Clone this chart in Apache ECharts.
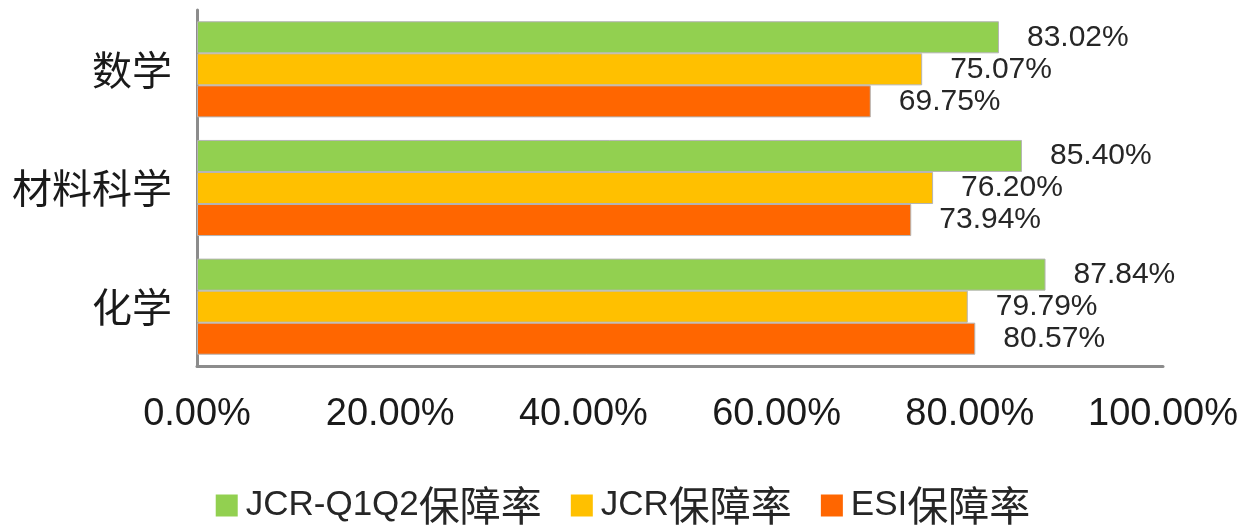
<!DOCTYPE html>
<html>
<head>
<meta charset="utf-8">
<script src="https://cdn.jsdelivr.net/npm/echarts@6/dist/echarts.min.js"></script>
<style>
  html, body { margin: 0; padding: 0; background: #fff; }
  #chart { width: 1246px; height: 526px; }
</style>
</head>
<body>
<div id="chart"></div>
<script>
// Subjects, listed bottom to top on the category axis
const categories = ['化学', '材料科学', '数学'];

// Coverage rates (%) for each subject, same order as categories
const jcrQ1Q2Rate = [87.84, 85.40, 83.02];
const jcrRate = [79.79, 76.20, 75.07];
const esiRate = [80.57, 73.94, 69.75];

const seriesNames = ['JCR-Q1Q2保障率', 'JCR保障率', 'ESI保障率'];
const seriesColors = ['#92d050', '#ffc000', '#ff6600'];

// Value axis ticks
const axisMin = 0;
const axisMax = 100;
const axisStep = 20;

const latin = 'Liberation Sans, Arial, sans-serif';
const cjk = 'Noto Sans CJK SC, sans-serif';
const axisGray = '#8c8c8c';

function makeSeries(name, data, color) {
  return {
    name: name,
    type: 'bar',
    data: data,
    barGap: '0%',
    barCategoryGap: '19%',
    itemStyle: { color: color, borderColor: '#b4b4b4', borderWidth: 1 },
    label: {
      show: true,
      position: 'right',
      distance: 28,
      fontFamily: latin,
      fontSize: 30,
      color: '#262626',
      formatter: p => p.value.toFixed(2) + '%'
    }
  };
}

const chart = echarts.init(document.getElementById('chart'), null, { renderer: 'canvas' });

chart.setOption({
  animation: false,
  backgroundColor: '#ffffff',
  grid: { left: 197, right: 83, top: 10, bottom: 160, containLabel: false },
  legend: {
    data: seriesNames,
    left: 'center',
    top: 480,
    icon: 'rect',
    itemWidth: 22,
    itemHeight: 22,
    itemGap: 29,
    itemStyle: { borderWidth: 0 },
    formatter: name => {
      const m = name.match(/^([A-Za-z0-9\-]+)(.*)$/);
      return '{en|' + m[1] + '}{zh|' + m[2] + '}';
    },
    textStyle: {
      color: '#262626',
      padding: [0, 0, 0, 3],
      rich: {
        en: { fontFamily: latin, fontSize: 35, color: '#262626' },
        zh: { fontFamily: cjk, fontSize: 41, color: '#262626' }
      }
    }
  },
  xAxis: {
    type: 'value',
    min: axisMin,
    max: axisMax,
    interval: axisStep,
    axisLine: { show: true, lineStyle: { color: axisGray, width: 3 } },
    axisTick: { show: false },
    splitLine: { show: false },
    axisLabel: {
      margin: 30,
      fontFamily: latin,
      fontSize: 38,
      color: '#1a1a1a',
      formatter: v => v.toFixed(2) + '%'
    }
  },
  yAxis: {
    type: 'category',
    data: categories,
    axisLine: { show: true, lineStyle: { color: axisGray, width: 3 } },
    axisTick: { show: false },
    axisLabel: {
      margin: 25,
      fontFamily: cjk,
      fontSize: 40,
      color: '#1a1a1a'
    }
  },
  series: [
    makeSeries(seriesNames[0], jcrQ1Q2Rate, seriesColors[0]),
    makeSeries(seriesNames[1], jcrRate, seriesColors[1]),
    makeSeries(seriesNames[2], esiRate, seriesColors[2])
  ]
});
</script>
</body>
</html>
